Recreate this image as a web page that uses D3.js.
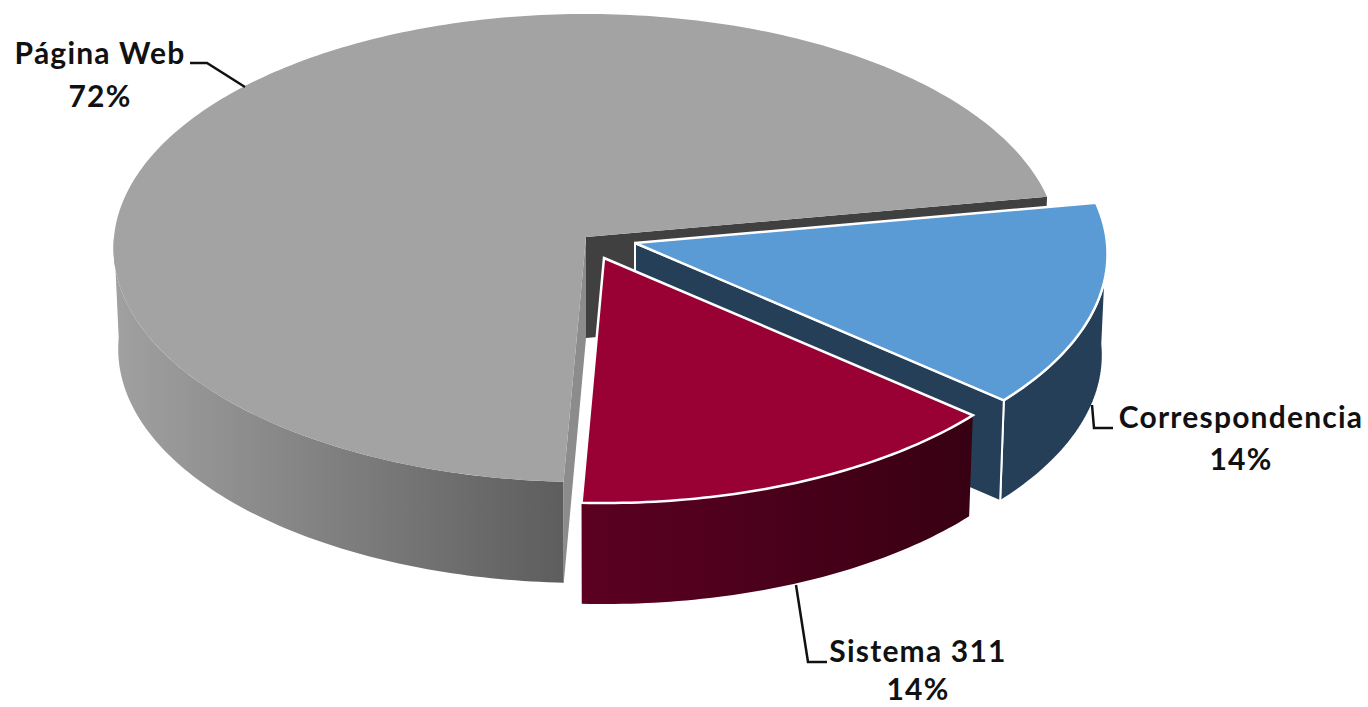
<!DOCTYPE html>
<html>
<head>
  <title>Canales</title>
  <meta charset="utf-8">
  <script src="https://d3js.org/d3.v7.min.js"></script>
  <style>
    html, body { margin: 0; background: #fff; }
    text { font-family: Lato, "Open Sans", sans-serif; font-weight: 700; fill: #111; letter-spacing: 1.2px; }
  </style>
</head>
<body>
<script>
// data, in drawing order round the pie
var categorias = ["Correspondencia", "Sistema 311", "Página Web"];
var valores = [14.1, 14.4, 71.5];
var porcentajes = ["14%", "14%", "72%"];

var w = 1368, h = 707;
var rx = 472, ry = 233.5, k = 0.047, depth = 101, bottomShrink = 0.99;
var inicio = 80 * Math.PI / 180;

// top corner of each slice once it has been pulled out of the pie
var apex = { "Correspondencia": [635, 243], "Sistema 311": [604, 258], "Página Web": [586, 237] };
var colores = {
  "Correspondencia": { top: "#5b9bd5", wall: "#243f57", cut: "#243f57" },
  "Sistema 311": { top: "#990033", wall: "url(#gradRed)", cut: "#3d0016" },
  "Página Web": { top: "#a3a3a3", wall: "url(#gradGray)", cut: "#8c8c8c" }
};
var labelPos = {
  "Correspondencia": { x: 1241, y: 428, py: 470, leader: [[1092, 405], [1094, 428], [1113, 428]] },
  "Sistema 311": { x: 918, y: 662, py: 700, leader: [[796, 585], [808, 662], [827, 662]] },
  "Página Web": { x: 100, y: 64, py: 107, leader: [[190, 63], [207, 63], [245, 87]] }
};

var svg = d3.select("body").append("svg")
  .attr("width", w)
  .attr("height", h)
  .style("display", "block");

var defs = svg.append("defs");
function gradient(id, x1, x2, c1, c2) {
  var g = defs.append("linearGradient").attr("id", id)
    .attr("gradientUnits", "userSpaceOnUse")
    .attr("x1", x1).attr("x2", x2).attr("y1", 0).attr("y2", 0);
  g.append("stop").attr("offset", 0).attr("stop-color", c1);
  g.append("stop").attr("offset", 1).attr("stop-color", c2);
}
gradient("gradGray", 118, 560, "#a0a0a0", "#5e5e5e");
gradient("gradRed", 581, 970, "#5c0022", "#380013");

var pie = d3.pie().sort(null).startAngle(inicio).endAngle(inicio + 2 * Math.PI);
var arcs = pie(valores);

var xs = d3.scaleLinear().domain([-1, 1]).range([-rx, rx]);
var ys = d3.scaleLinear().domain([-1, 1]).range([-ry, ry]);

// disc point to screen, the far side of the disc comes out a bit smaller
function project(c, a, drop) {
  var u = Math.sin(a), v = -Math.cos(a), ww = 1 - k * v;
  var p = apex[c];
  return drop
    ? [p[0] + xs(u / ww) * bottomShrink, p[1] + ys(v / ww) + depth]
    : [p[0] + xs(u / ww), p[1] + ys(v / ww)];
}

function rim(c, a0, a1, drop) {
  var n = Math.ceil((a1 - a0) * 60);
  return d3.range(n + 1).map(function(i) {
    return project(c, a0 + (a1 - a0) * i / n, drop);
  });
}

var line = d3.line();
function closed(pts) { return line(pts) + "Z"; }

function drawSlice(i) {
  var c = categorias[i], d = arcs[i], col = colores[c], p = apex[c];
  var g = svg.append("g");
  var low = [p[0], p[1] + depth];

  // outer wall, only the front half of the rim can be seen
  var a0 = Math.max(d.startAngle, Math.PI / 2), a1 = Math.min(d.endAngle, 3 * Math.PI / 2);
  g.append("path")
    .attr("d", closed(rim(c, a0, a1, false).concat(rim(c, a0, a1, true).reverse())))
    .attr("fill", col.wall)
    .attr("stroke", c == "Correspondencia" ? "#fff" : "none")
    .attr("stroke-width", 2);

  // cut faces that look towards us
  if (c == "Correspondencia") {
    g.append("path")
      .attr("d", closed([p, project(c, d.endAngle, false), project(c, d.endAngle, true), low]))
      .attr("fill", col.cut).attr("stroke", "#fff").attr("stroke-width", 2);
  }
  if (c == "Página Web") {
    g.append("path")
      .attr("d", closed([p, project(c, d.endAngle, false), project(c, d.endAngle, true), low]))
      .attr("fill", "#404040");
    g.append("path")
      .attr("d", closed([p, project(c, d.startAngle, false), project(c, d.startAngle, true), low]))
      .attr("fill", col.cut);
  }

  // top face
  g.append("path")
    .attr("d", closed([p].concat(rim(c, d.startAngle, d.endAngle, false))))
    .attr("fill", col.top)
    .attr("stroke", c == "Página Web" ? "none" : "#fff")
    .attr("stroke-width", 2.5)
    .attr("stroke-linejoin", "miter");
}

// back to front
[2, 0, 1].forEach(drawSlice);

categorias.forEach(function(c, i) {
  var l = labelPos[c];
  svg.append("path")
    .attr("d", line(l.leader))
    .attr("fill", "none")
    .attr("stroke", "#111")
    .attr("stroke-width", 2.5);
  svg.append("text").attr("x", l.x).attr("y", l.y)
    .attr("text-anchor", "middle").attr("font-size", 30).text(c);
  svg.append("text").attr("x", l.x).attr("y", l.py)
    .attr("text-anchor", "middle").attr("font-size", 30).text(porcentajes[i]);
});
</script>
</body>
</html>
